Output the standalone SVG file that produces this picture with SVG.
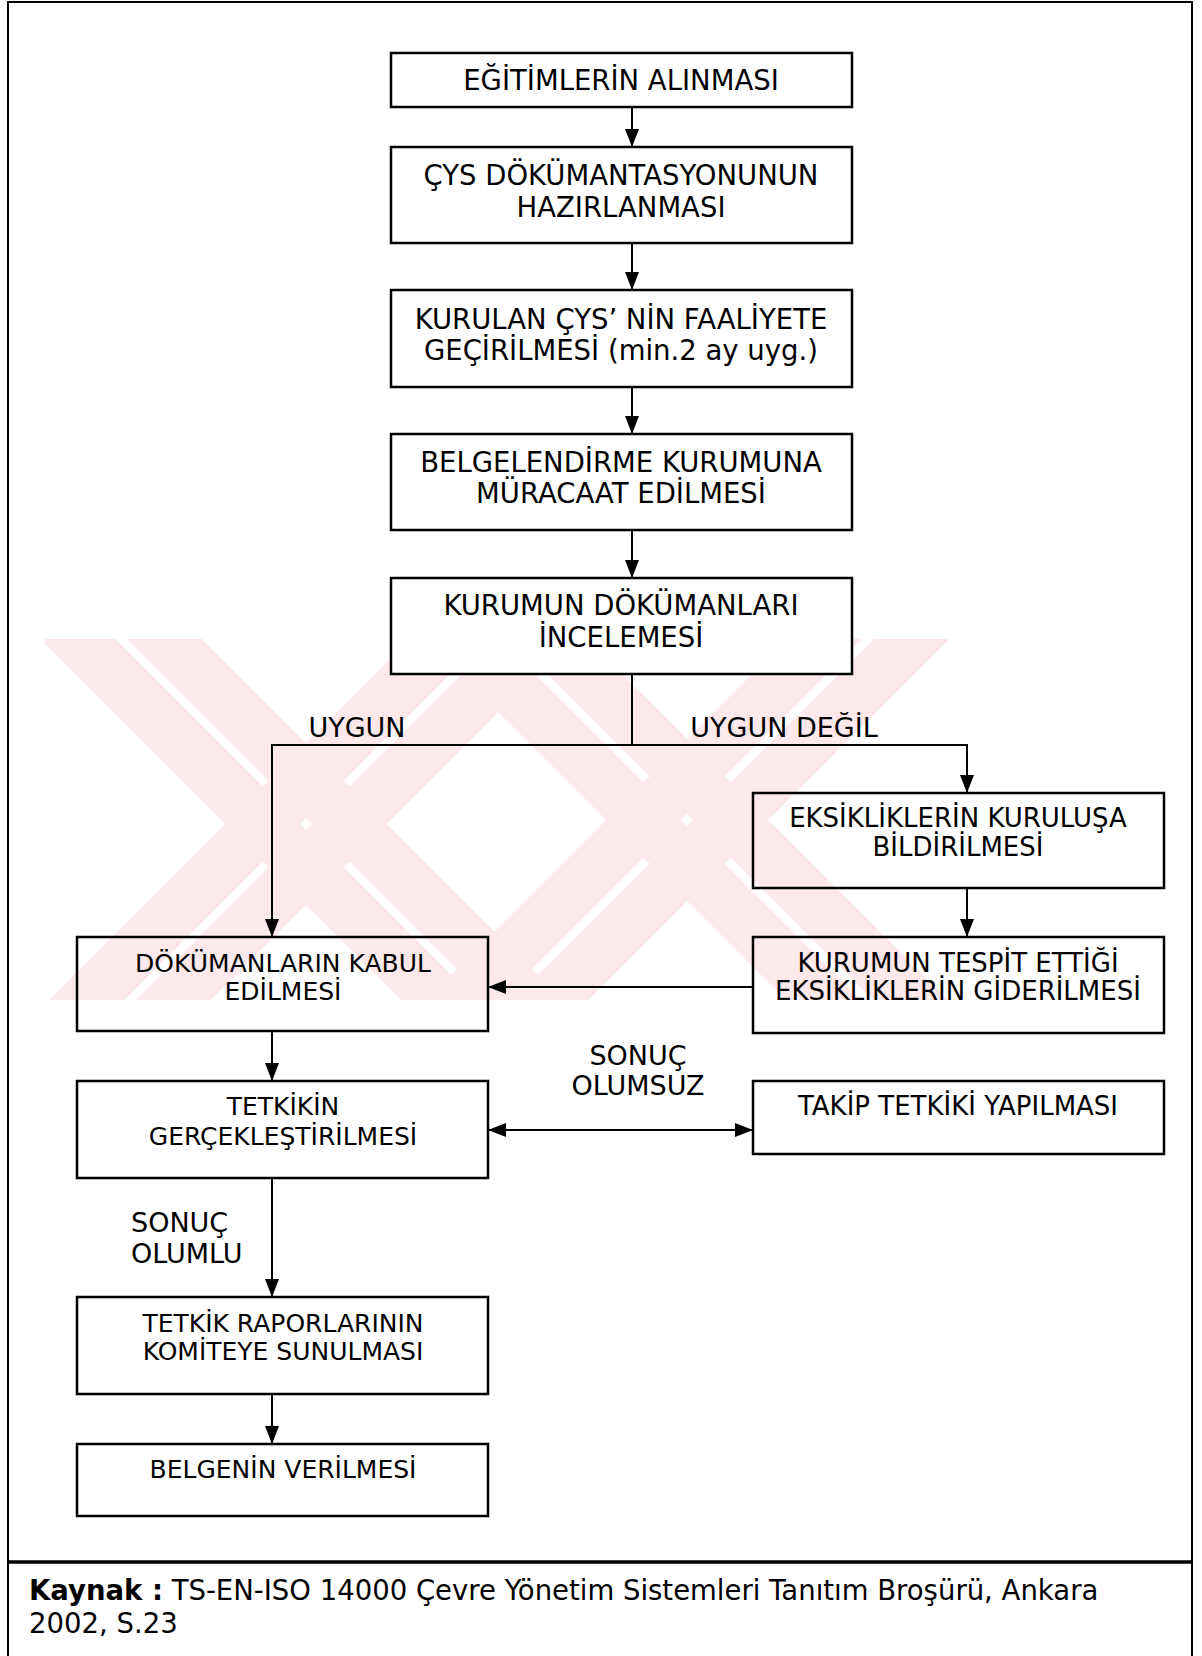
<svg xmlns="http://www.w3.org/2000/svg" width="1202" height="1656" viewBox="0 0 1202 1656">
<style>
.box{fill:none;stroke:#000;stroke-width:2.5}
.boxw{fill:#fff;stroke:#000;stroke-width:2.5}
.conn{fill:none;stroke:#000;stroke-width:2}
.t{font-family:"DejaVu Sans",Verdana,"Liberation Sans",sans-serif;fill:#000;text-anchor:middle}
.s27{font-size:27.5px}
.s25{font-size:25px}
.s26{font-size:26px}
.lbl{font-family:"DejaVu Sans",Verdana,"Liberation Sans",sans-serif;fill:#000;font-size:27px}
.cap{font-family:"DejaVu Sans",Verdana,"Liberation Sans",sans-serif;fill:#000;font-size:27.5px}
.wm{fill:#fde8ec}
</style>
<defs>
<marker id="ah" markerUnits="userSpaceOnUse" markerWidth="18" markerHeight="14" refX="18" refY="7" orient="auto-start-reverse" viewBox="0 0 18 14">
<path d="M0,0 L18,7 L0,14 z" fill="#000"/>
</marker>
<clipPath id="wmclip"><rect x="45" y="639" width="915" height="363"/></clipPath>
</defs>
<rect width="1202" height="1656" fill="#fff"/>
<g id="watermark" clip-path="url(#wmclip)">
<polygon class="wm" points="40,639 115,639 476,1000 401,1000"/>
<polygon class="wm" points="127,639 202,639 563,1000 488,1000"/>
<polygon class="wm" points="410,639 485,639 124,1000 49,1000"/>
<polygon class="wm" points="497,639 572,639 211,1000 136,1000"/>
<polygon class="wm" points="425,639 500,639 861,1000 786,1000"/>
<polygon class="wm" points="512,639 587,639 948,1000 873,1000"/>
<polygon class="wm" points="787,639 862,639 501,1000 426,1000"/>
<polygon class="wm" points="874,639 949,639 588,1000 513,1000"/>
</g>
<g id="frame">
<rect x="8" y="2" width="1184" height="1670" fill="none" stroke="#000" stroke-width="2"/>
<line x1="8" y1="1562" x2="1192" y2="1562" stroke="#000" stroke-width="3.5"/>
</g>
<g id="n1"><rect class="box" x="391" y="53" width="461" height="54"/><text class="t s27" x="621" y="90">EĞİTİMLERİN ALINMASI</text></g>
<g id="n2"><rect class="box" x="391" y="147" width="461" height="96"/><text class="t s27" x="621" y="185">ÇYS DÖKÜMANTASYONUNUN</text><text class="t s27" x="621" y="217">HAZIRLANMASI</text></g>
<g id="n3"><rect class="box" x="391" y="290" width="461" height="97"/><text class="t s27" x="621" y="329">KURULAN ÇYS’ NİN FAALİYETE</text><text class="t s27" x="621" y="360">GEÇİRİLMESİ (min.2 ay uyg.)</text></g>
<g id="n4"><rect class="box" x="391" y="434" width="461" height="96"/><text class="t s27" x="621" y="472">BELGELENDİRME KURUMUNA</text><text class="t s27" x="621" y="503">MÜRACAAT EDİLMESİ</text></g>
<g id="n5"><rect class="boxw" x="391" y="578" width="461" height="96"/><text class="t s27" x="621" y="615">KURUMUN DÖKÜMANLARI</text><text class="t s27" x="621" y="647">İNCELEMESİ</text></g>
<g id="n6"><rect class="box" x="753" y="793" width="411" height="95"/><text class="t s26" x="958" y="827">EKSİKLİKLERİN KURULUŞA</text><text class="t s26" x="958" y="856">BİLDİRİLMESİ</text></g>
<g id="n7"><rect class="box" x="77" y="937" width="411" height="94"/><text class="t s25" x="283" y="972">DÖKÜMANLARIN KABUL</text><text class="t s25" x="283" y="1000">EDİLMESİ</text></g>
<g id="n8"><rect class="box" x="753" y="937" width="411" height="96"/><text class="t s26" x="958" y="972">KURUMUN TESPİT ETTİĞİ</text><text class="t s26" x="958" y="1000">EKSİKLİKLERİN GİDERİLMESİ</text></g>
<g id="n9"><rect class="box" x="77" y="1081" width="411" height="97"/><text class="t s25" x="283" y="1115">TETKİKİN</text><text class="t s25" x="283" y="1145">GERÇEKLEŞTİRİLMESİ</text></g>
<g id="n10"><rect class="box" x="753" y="1081" width="411" height="73"/><text class="t s26" x="958" y="1115">TAKİP TETKİKİ YAPILMASI</text></g>
<g id="n11"><rect class="box" x="77" y="1297" width="411" height="97"/><text class="t s25" x="283" y="1332">TETKİK RAPORLARININ</text><text class="t s25" x="283" y="1360">KOMİTEYE SUNULMASI</text></g>
<g id="n12"><rect class="box" x="77" y="1444" width="411" height="72"/><text class="t s25" x="283" y="1478">BELGENİN VERİLMESİ</text></g>
<g id="connectors">
<line class="conn" x1="632" y1="107" x2="632" y2="147" marker-end="url(#ah)"/>
<line class="conn" x1="632" y1="243" x2="632" y2="290" marker-end="url(#ah)"/>
<line class="conn" x1="632" y1="387" x2="632" y2="434" marker-end="url(#ah)"/>
<line class="conn" x1="632" y1="530" x2="632" y2="578" marker-end="url(#ah)"/>
<polyline class="conn" points="632,674 632,745 272,745 272,937" marker-end="url(#ah)"/>
<polyline class="conn" points="632,745 967,745 967,793" marker-end="url(#ah)"/>
<line class="conn" x1="967" y1="888" x2="967" y2="937" marker-end="url(#ah)"/>
<line class="conn" x1="753" y1="987" x2="488" y2="987" marker-end="url(#ah)"/>
<line class="conn" x1="272" y1="1031" x2="272" y2="1081" marker-end="url(#ah)"/>
<line class="conn" x1="488" y1="1130" x2="753" y2="1130" marker-start="url(#ah)" marker-end="url(#ah)"/>
<line class="conn" x1="272" y1="1178" x2="272" y2="1297" marker-end="url(#ah)"/>
<line class="conn" x1="272" y1="1394" x2="272" y2="1444" marker-end="url(#ah)"/>
</g>
<g id="labels">
<text class="t lbl" x="357" y="737">UYGUN</text>
<text class="t lbl" x="784" y="737">UYGUN DEĞİL</text>
<text class="t lbl" x="638" y="1065">SONUÇ</text>
<text class="t lbl" x="638" y="1095">OLUMSUZ</text>
<text class="lbl" x="131" y="1232">SONUÇ</text>
<text class="lbl" x="131" y="1263">OLUMLU</text>
</g>
<g id="caption">
<text class="cap" x="29" y="1600"><tspan font-weight="bold">Kaynak :</tspan> TS-EN-ISO 14000 Çevre Yönetim Sistemleri Tanıtım Broşürü, Ankara</text>
<text class="cap" x="29" y="1633">2002, S.23</text>
</g>
</svg>
